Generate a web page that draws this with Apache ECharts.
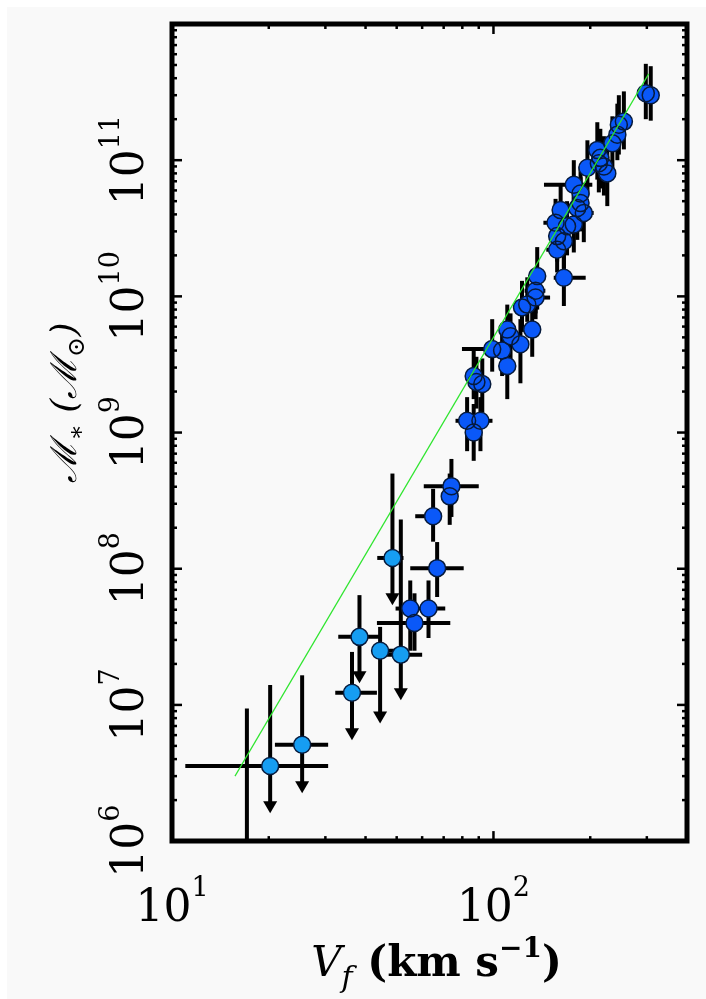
<!DOCTYPE html>
<html>
<head>
<meta charset="utf-8">
<title>Stellar mass vs flat rotation velocity</title>
<script src="https://cdn.jsdelivr.net/npm/echarts@6/dist/echarts.min.js"></script>
<style>
  html, body { margin: 0; padding: 0; background: #fff; }
  #chart { position: absolute; left: 7px; top: 7px; width: 699px; height: 992px; background: #f9f9f9; }
</style>
</head>
<body>
<div id="chart"></div>
<script>
// upper limits (light blue): [V, M, Vlo, Vhi, Mhi, arrow tip]
var limitPoints = [
  [20.2, 3.56e6, 11.0, 30.6, 1.4e7, 1.6e6],
  [25.4, 5.1e6, 20.9, 30.6, 1.65e7, 2.25e6],
  [36.3, 1.23e7, 32.2, 43.4, 2.45e7, 5.5e6],
  [38.3, 3.16e7, 32.9, 44.4, 6.4e7, 1.44e7],
  [44.4, 2.5e7, 41.9, 52.0, 3.74e7, 7.3e6],
  [51.5, 2.34e7, 45.4, 60.0, 2.3e8, 1.08e7],
  [48.5, 1.2e8, 43.5, 52.5, 5.0e8, 5.4e7]
];

// detections (dark blue): [V, M, Vlo, Vhi, Mlo, Mhi]
var detections = [
  [55.1, 5.1e7, 49.6, 58.0, 2.5e7, 8.2e7],
  [56.8, 4.0e7, 43.4, 73.4, 2.5e7, 6.6e7],
  [62.8, 5.1e7, 55.1, 70.8, 3.1e7, 8.2e7],
  [66.8, 1.01e8, 55.1, 80.8, 6.2e7, 1.57e8],
  [64.9, 2.43e8, 57.1, 68.4, 1.58e8, 3.86e8],
  [74.0, 4.04e8, 60.7, 90.0, 2.4e8, 6.4e8],
  [73.1, 3.4e8, 73.1, 73.1, 2.1e8, 5.0e8],
  [82.8, 1.22e9, 76.2, 91.2, 7.3e8, 1.82e9],
  [91.1, 1.22e9, 84.7, 99.3, 7.3e8, 1.82e9],
  [86.8, 1.0e9, 86.8, 86.8, 6.2e8, 1.62e9],
  [86.8, 2.6e9, 86.8, 86.8, 1.76e9, 4.2e9],
  [88.5, 2.35e9, 88.5, 88.5, 1.5e9, 3.6e9],
  [92.3, 2.27e9, 92.3, 92.3, 1.4e9, 3.5e9],
  [99.1, 4.1e9, 79.8, 108, 2.8e9, 6.8e9],
  [110.4, 3.08e9, 110.4, 110.4, 1.76e9, 4.8e9],
  [106.4, 4.0e9, 100, 114, 2.6e9, 6.0e9],
  [110.4, 5.7e9, 110.4, 110.4, 3.2e9, 8.7e9],
  [113, 5.1e9, 113, 113, 3.3e9, 7.5e9],
  [121.3, 4.45e9, 121.3, 121.3, 2.3e9, 6.8e9],
  [132, 5.7e9, 122, 140, 3.6e9, 9.0e9],
  [122.7, 8.3e9, 122.7, 122.7, 5.5e9, 1.3e10],
  [127.4, 8.7e9, 127.4, 127.4, 6.5e9, 1.38e10],
  [135.2, 1.1e10, 125, 145, 7.5e9, 1.6e10],
  [135.2, 9.8e9, 135.2, 150, 6.8e9, 1.4e10],
  [136.8, 1.41e10, 136.8, 136.8, 8.0e9, 2.3e10],
  [165.6, 1.37e10, 154, 193.6, 8.5e9, 2.1e10],
  [157.8, 2.2e10, 146, 170, 1.5e10, 3.2e10],
  [157.8, 2.77e10, 157.8, 157.8, 1.8e10, 4.2e10],
  [165.6, 2.54e10, 165.6, 165.6, 1.6e10, 4.0e10],
  [156, 3.47e10, 143, 190, 2.3e10, 5.2e10],
  [169.4, 3.27e10, 169.4, 169.4, 2.0e10, 5.0e10],
  [177.8, 3.37e10, 177.8, 177.8, 2.1e10, 5.4e10],
  [161.8, 4.3e10, 161.8, 161.8, 2.8e10, 6.5e10],
  [191, 4.1e10, 180, 205, 2.5e10, 6.2e10],
  [186.6, 4.85e10, 186.6, 186.6, 3.0e10, 7.5e10],
  [182.3, 4.46e10, 182.3, 182.3, 2.6e10, 7.0e10],
  [186.6, 5.7e10, 186.6, 186.6, 3.6e10, 9.0e10],
  [177.8, 6.6e10, 143.6, 203, 4.3e10, 1.0e11],
  [196, 8.8e10, 196, 196, 5.5e10, 1.4e11],
  [220.6, 9.0e10, 220.6, 220.6, 5.5e10, 1.5e11],
  [226, 8.0e10, 226, 226, 4.6e10, 1.3e11],
  [215, 1.04e11, 215, 215, 6.2e10, 1.7e11],
  [212.7, 9.5e10, 212.7, 212.7, 5.8e10, 1.6e11],
  [210.4, 1.19e11, 210.4, 210.4, 7.2e10, 1.9e11],
  [234.4, 1.33e11, 234.4, 234.4, 8.5e10, 2.1e11],
  [242.9, 1.54e11, 242.9, 242.9, 1.0e11, 2.6e11],
  [245.5, 1.82e11, 245.5, 245.5, 1.1e11, 3.0e11],
  [254.5, 1.92e11, 254.5, 254.5, 1.2e11, 3.2e11],
  [297.8, 3.1e11, 297.8, 297.8, 2.0e11, 5.1e11],
  [308.5, 3.0e11, 308.5, 308.5, 1.95e11, 4.9e11]
];

// a point below the plotted range, only its upper error bar shows
var bareBars = [[17.1, 5e5, 17.1, 17.1, 2e5, 9.4e6]];

var fitLine = [[15.7, 3.0e6], [304, 4.3e11]];

var xRange = [10, 400];
var yRange = [1e6, 1e12];
var xMajorTicks = [10, 100];
var yMajorTicks = [1e6, 1e7, 1e8, 1e9, 1e10, 1e11, 1e12];
var minorSteps = [2, 3, 4, 5, 6, 7, 8, 9];

var serif = 'DejaVu Serif';
var lightBlue = '#169df2';
var darkBlue = '#0a58f8';

function withMinors (majors, hi) {
  var out = [];
  majors.forEach(function (m) {
    out.push(m);
    minorSteps.forEach(function (s) { if (m * s < hi) out.push(m * s); });
  });
  return out;
}
function isPow10 (v) {
  var l = Math.log(v) / Math.LN10;
  return Math.abs(l - Math.round(l)) < 1e-6;
}
function expLabel (v) {
  if (!isPow10(v)) return '';
  return '{b|10}{s|' + Math.round(Math.log(v) / Math.LN10) + '}';
}

var barData = limitPoints.map(function (p) { return [p[0], p[1], p[2], p[3], p[5], p[4], 1]; })
  .concat(detections.map(function (p) { return p.concat([0]); }))
  .concat(bareBars.map(function (p) { return p.concat([0]); }));

var xTicks = withMinors(xMajorTicks, xRange[1]).map(function (v) { return [v, yRange[0]]; });
var yTicks = withMinors(yMajorTicks, yRange[1] * 1.0001).map(function (v) { return [xRange[0], v]; });

function renderBars (params, api) {
  var V = api.value(0), M = api.value(1);
  var c = api.coord([V, M]);
  var xa = api.coord([api.value(2), M])[0], xb = api.coord([api.value(3), M])[0];
  var ya = api.coord([V, api.value(4)])[1], yb = api.coord([V, api.value(5)])[1];
  var lim = api.value(6);
  var st = { stroke: '#000', lineWidth: 4 };
  var kids = [];
  if (xb - xa > 1) kids.push({ type: 'line', shape: { x1: xa, y1: c[1], x2: xb, y2: c[1] }, style: st });
  kids.push({ type: 'line', shape: { x1: c[0], y1: yb, x2: c[0], y2: lim ? ya - 10 : ya }, style: st });
  if (lim) {
    kids.push({ type: 'polygon', shape: { points: [[c[0] - 7, ya - 12], [c[0] + 7, ya - 12], [c[0], ya]] }, style: { fill: '#000' } });
  }
  return { type: 'group', children: kids };
}

function renderTicks (horizontal) {
  return function (params, api) {
    var cs = params.coordSys;
    var v = api.value(horizontal ? 0 : 1);
    var len = isPow10(v) ? 10 : 5;
    var st = { stroke: '#000', lineWidth: 2.5 };
    if (horizontal) {
      var x = api.coord([v, yRange[0]])[0];
      return { type: 'group', children: [
        { type: 'line', shape: { x1: x, y1: cs.y + cs.height, x2: x, y2: cs.y + cs.height - len }, style: st },
        { type: 'line', shape: { x1: x, y1: cs.y, x2: x, y2: cs.y + len }, style: st }
      ] };
    }
    var y = api.coord([xRange[0], v])[1];
    return { type: 'group', children: [
      { type: 'line', shape: { x1: cs.x, y1: y, x2: cs.x + len, y2: y }, style: st },
      { type: 'line', shape: { x1: cs.x + cs.width, y1: y, x2: cs.x + cs.width - len, y2: y }, style: st }
    ] };
  };
}

var tickRich = {
  b: { fontFamily: serif, fontSize: 44, color: '#000', lineHeight: 56, verticalAlign: 'bottom' },
  s: { fontFamily: serif, fontSize: 27, color: '#000', lineHeight: 56, verticalAlign: 'top' }
};

var chart = echarts.init(document.getElementById('chart'), null, { renderer: 'canvas' });
chart.setOption({
  backgroundColor: '#f9f9f9',
  animation: false,
  grid: { left: 165, top: 17, width: 515, height: 819, show: true, borderColor: '#000', borderWidth: 5, backgroundColor: 'transparent' },
  xAxis: {
    type: 'log', logBase: 10, min: xRange[0], max: xRange[1],
    axisLine: { show: false }, axisTick: { show: false }, splitLine: { show: false },
    axisLabel: { margin: 34, formatter: expLabel, rich: tickRich },
    name: '{i|V}{sub|f}{b| (km s}{sup|\u22121}{b|)}',
    nameLocation: 'middle', nameGap: 80,
    nameTextStyle: {
      padding: [0, 0, 0, 14],
      rich: {
        i: { fontFamily: serif, fontStyle: 'italic', fontSize: 42, color: '#000', lineHeight: 58, verticalAlign: 'middle' },
        sub: { fontFamily: serif, fontStyle: 'italic', fontSize: 30, color: '#000', lineHeight: 58, verticalAlign: 'bottom' },
        b: { fontFamily: serif, fontWeight: 'bold', fontSize: 42, color: '#000', lineHeight: 58, verticalAlign: 'middle' },
        sup: { fontFamily: serif, fontWeight: 'bold', fontSize: 28, color: '#000', lineHeight: 58, verticalAlign: 'top' }
      }
    }
  },
  yAxis: {
    type: 'log', logBase: 10, min: yRange[0], max: yRange[1], splitNumber: 6,
    axisLine: { show: false }, axisTick: { show: false }, splitLine: { show: false },
    axisLabel: { margin: 18, rotate: 90, formatter: function (v) { return v >= yRange[1] * 0.999 ? '' : expLabel(v); }, rich: tickRich },
    name: '{m|\u2133}{sub|\u2217}{m| (\u2133}{sub|\u2299}{m|)}',
    nameLocation: 'middle', nameGap: 60, nameRotate: 90,
    nameTextStyle: {
      padding: [0, 0, 0, 60],
      rich: {
        m: { fontFamily: serif, fontStyle: 'italic', fontSize: 36, color: '#000', lineHeight: 46, verticalAlign: 'middle' },
        sub: { fontFamily: serif, fontSize: 24, color: '#000', lineHeight: 46, verticalAlign: 'bottom' }
      }
    }
  },
  series: [
    { type: 'custom', name: 'error bars', data: barData, renderItem: renderBars, clip: true, z: 1,
      encode: { x: 0, y: 1 }, silent: true },
    { type: 'scatter', name: 'upper limits', data: limitPoints.map(function (p) { return [p[0], p[1]]; }),
      symbol: 'circle', symbolSize: 17, itemStyle: { color: lightBlue, borderWidth: 0, opacity: 1 }, z: 2 },
    { type: 'scatter', name: 'detections', data: detections.map(function (p) { return [p[0], p[1]]; }),
      symbol: 'circle', symbolSize: 17, itemStyle: { color: darkBlue, borderWidth: 0, opacity: 1 }, z: 2 },
    { type: 'scatter', name: 'outlines', data: limitPoints.concat(detections).map(function (p) { return [p[0], p[1]]; }),
      symbol: 'circle', symbolSize: 17, itemStyle: { color: 'rgba(0,0,0,0)', borderColor: '#061a3c', borderWidth: 1.5, opacity: 1 }, z: 3, silent: true },
    { type: 'line', name: 'fit', data: fitLine, symbol: 'none', lineStyle: { color: '#2ee52e', width: 1.2 }, z: 4, silent: true },
    { type: 'custom', name: 'x ticks', data: xTicks, renderItem: renderTicks(true), encode: { x: 0, y: 1 }, z: 5, silent: true },
    { type: 'custom', name: 'y ticks', data: yTicks, renderItem: renderTicks(false), encode: { x: 0, y: 1 }, z: 5, silent: true }
  ]
});
</script>
</body>
</html>
